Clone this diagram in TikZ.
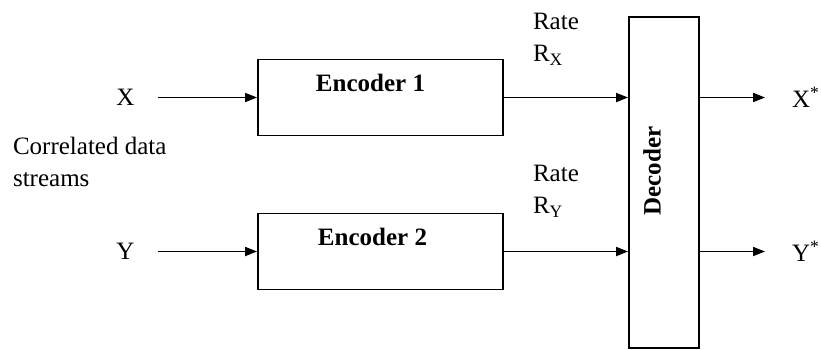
\documentclass[tikz,border=0pt]{standalone}
\usepackage{fontspec}
\setmainfont{Liberation Serif}
\usetikzlibrary{arrows.meta}
\usetikzlibrary{positioning}

\begin{document}
\begin{tikzpicture}[x=0.5pt, y=-0.5pt,
    every node/.style={font=\fontsize{12.5}{16}\selectfont},
    block/.style={draw, line width=0.9pt, minimum width=122.5pt, minimum height=38pt},
    title/.style={font=\fontsize{12.5}{16}\selectfont\bfseries},
    link/.style={line width=0.9pt, -{Triangle[length=6pt, width=4.5pt]}}]
    \useasboundingbox (0,0) rectangle (821,349);

    \node[block, label={[title, anchor=north, xshift=-5pt, yshift=-4pt]north:Encoder 1}] (enc1) at (380.5,97.5) {};
    \node[block, label={[title, anchor=north, xshift=-4pt, yshift=-4pt]north:Encoder 2}] (enc2) at (380.5,251.5) {};
    \node[draw, line width=0.9pt, minimum width=35pt, minimum height=165.5pt] (dec) at (664,182.5) {};
    \node[title, rotate=90] (dectext) at (652,171) {Decoder};

    \node (x) at (125.5,97.5) {X};
    \node (y) at (125.5,251.5) {Y};
    \node (xs) at (806,97.5) {X\textsuperscript{*}};
    \node (ys) at (806,251.5) {Y\textsuperscript{*}};

    \node[align=left, anchor=north west] (ratex) at (526,6) {Rate\\R\textsubscript{X}};
    \node[align=left, anchor=north west] (ratey) at (526,158) {Rate\\R\textsubscript{Y}};
    \node[align=left, anchor=north west] (streams) at (6,130) {Correlated data\\streams};

    \draw[link, shorten <=8pt] (x) -- (enc1);
    \draw[link, shorten <=8pt] (y) -- (enc2);
    \draw[link] (enc1.east) -- (enc1.east -| dec.west);
    \draw[link] (enc2.east) -- (enc2.east -| dec.west);
    \draw[link, shorten >=10pt] (dec.east |- xs) -- (xs.west);
    \draw[link, shorten >=10pt] (dec.east |- ys) -- (ys.west);
  \end{tikzpicture}
\end{document}
